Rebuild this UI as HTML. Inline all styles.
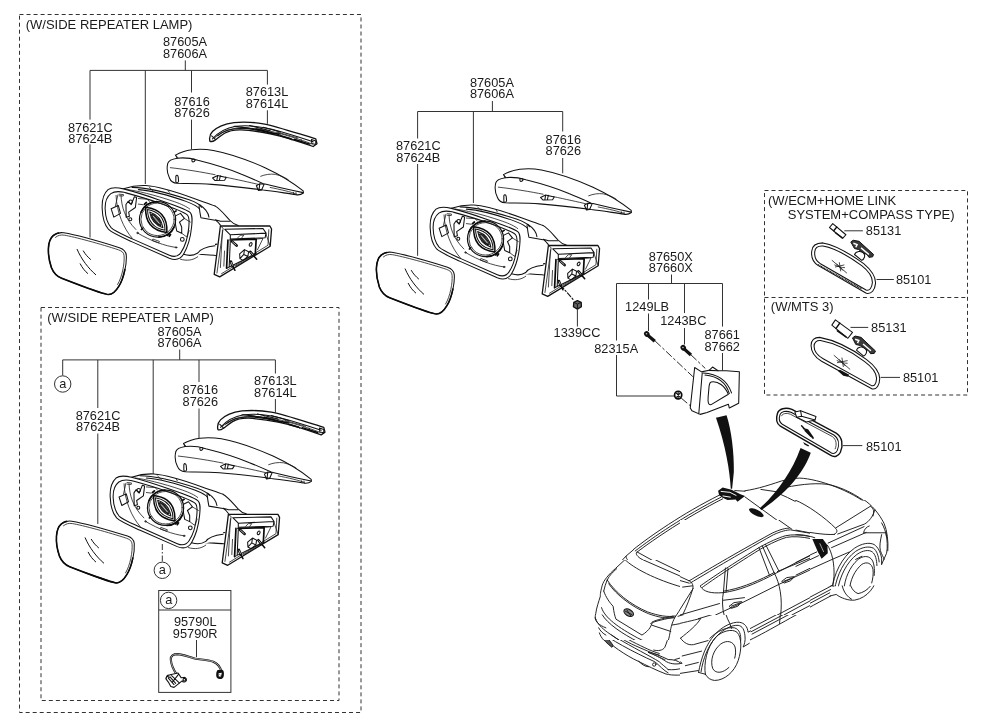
<!DOCTYPE html>
<html>
<head>
<meta charset="utf-8">
<title>Mirror parts diagram</title>
<style>
html,body{margin:0;padding:0;background:#fff;}
body{width:988px;height:727px;overflow:hidden;font-family:"Liberation Sans",sans-serif;}
svg{display:block;will-change:transform;transform:translateZ(0);}
text{font-family:"Liberation Sans",sans-serif;font-size:12.4px;fill:#1a1a1a;}
.m{text-anchor:middle;}
.ld{stroke:#333;stroke-width:1;fill:none;}
.db{stroke:#333;stroke-width:1;fill:none;stroke-dasharray:4 3.03;}
.p{stroke:#111;stroke-width:1.05;fill:none;stroke-linecap:round;stroke-linejoin:round;}
.pw{stroke:#111;stroke-width:1.05;fill:#fff;stroke-linecap:round;stroke-linejoin:round;}
.t{stroke:#1a1a1a;stroke-width:0.8;fill:none;stroke-linecap:round;stroke-linejoin:round;}
.h{stroke:#0a0a0a;stroke-width:1.6;fill:#fff;stroke-linecap:round;stroke-linejoin:round;}
.k{fill:#111;stroke:none;}
.c{stroke:#1a1a1a;stroke-width:0.95;fill:none;stroke-linecap:round;stroke-linejoin:round;}
.p,.pw,.t,.h,.d,.c{vector-effect:non-scaling-stroke;}
.d{stroke:#0a0a0a;stroke-width:1.7;fill:none;stroke-linecap:round;stroke-linejoin:round;}
</style>
</head>
<body>
<svg width="988" height="727" viewBox="0 0 988 727">
<defs>
<!-- DEFS-START -->
<clipPath id="cl1"><path clip-rule="evenodd" d="M-50,-50 H1000 V730 H-50 Z M586.6,308.75 H1000 V730 H586.6 Z M30.9,555.75 H586.6 V730 H30.9 Z"/></clipPath>
<clipPath id="cl2"><path clip-rule="evenodd" d="M57,-50 H1200 V720 H57 Z M374,189 H1200 V720 H374 Z M57,308.75 H463.1 V720 H57 Z"/></clipPath>
<clipPath id="cl3"><path clip-rule="evenodd" d="M-50,63 H988 V863 H-50 Z M586.6,63 H988 V247 H586.6 Z M18.5,63 H586.6 V710 H18.5 Z"/></clipPath>
<clipPath id="cl4"><path clip-rule="evenodd" d="M57,63 H1157 V863 H57 Z M57,63 H463.1 V247 H57 Z"/></clipPath>
<clipPath id="cl5"><path clip-rule="evenodd" d="M0,0 H900 V698 H0 Z M0,161.6 H121 V698 H0 Z"/></clipPath>
<clipPath id="cl6"><rect x="0" y="0" width="988" height="722"/></clipPath>
<clipPath id="cl7"><rect x="0" y="0" width="623.4" height="554.5"/></clipPath>
<clipPath id="cl8"><rect x="0" y="224" width="826" height="450"/></clipPath>
<g id="glass">
<!-- traced from zoom [40,220,140,295] s=9.69 -->
<g transform="translate(40 220) scale(0.1032)">
<path class="pw" d="M130,150 C160,125 190,118 230,124 C330,140 600,215 770,268 C810,282 832,300 836,340 C842,420 815,560 765,640 C735,690 700,725 660,722 C620,718 350,620 210,565 C160,545 130,510 110,460 C90,400 78,330 82,270 C85,220 100,175 130,150 Z"/>
<path class="d" style="stroke-width:1.6" d="M180,126 C160,130 145,138 130,150 C100,175 85,220 82,270 C78,330 90,400 110,460 C130,510 160,545 210,565 C350,620 620,718 660,722 C700,725 735,690 765,640 C790,600 810,540 822,480"/>
<path class="t" d="M150,168 C175,148 200,142 235,147 C330,162 600,236 760,289 C796,302 812,316 815,347 C820,420 798,548 752,625"/>
<path class="p" style="stroke-width:1" d="M360,285 C400,380 470,470 540,530 M420,300 C440,335 465,360 490,382 M390,425 C410,465 435,495 462,518"/>
</g>
</g>
<g id="housing">
<!-- traced from zoom [95,175,215,265] s=8.075 -->
<g transform="translate(95 175) scale(0.12384)">
<!-- shell top -->
<path class="pw" d="M230,112 C280,95 350,82 410,85 C500,90 650,135 800,190 C870,215 930,235 969,250 L969,600 L700,690 Z" style="stroke:none"/>
<path class="p" d="M230,112 C280,95 350,82 410,85 C500,90 650,135 800,190 C870,215 930,235 969,250"/>
<path class="p" d="M300,100 C400,100 560,135 760,200 C830,225 850,238 860,260"/>
<path class="p" d="M350,118 C450,125 600,165 740,215 C800,238 830,250 845,275"/>
<path class="t" d="M260,118 C330,125 480,160 640,215 C700,236 740,255 765,275"/>
<path class="t" d="M440,100 L470,130 M590,125 L600,140"/>
<!-- outer rim -->
<path class="pw" d="M230,112 C180,100 130,100 105,118 C70,150 55,210 58,270 C60,340 75,400 110,440 C140,470 200,495 300,540 L600,672 C650,692 690,680 715,640 C750,580 772,500 780,420 C785,370 790,320 765,300 C740,280 650,245 500,195 C400,160 300,130 230,112 Z"/>
<path class="p" d="M235,140 C190,130 150,135 128,150 C95,175 80,220 82,275 C84,340 100,390 130,425 C160,455 220,478 310,520 L600,648 C640,665 675,655 695,625 C728,575 750,500 757,425 C762,375 765,340 745,322 C720,300 640,268 500,220 C400,185 300,158 235,140 Z"/>
<!-- inner contour lines -->
<path class="t" d="M170,165 C175,300 230,430 300,510 M210,165 C215,260 240,350 330,440 M343,468 C450,532 564,573 655,585 M470,518 L520,536 L515,548 L465,530 Z"/>
<path class="t" d="M185,160 L165,250 M195,155 L230,158 L228,170 L195,168"/>
<circle class="t" cx="343" cy="468" r="6"/><circle class="t" cx="655" cy="585" r="6"/>
<!-- left brackets -->
<path class="p" d="M130,272 L188,246 L206,310 L152,340 Z"/>
<path class="p" d="M250,238 L268,212 L292,240 L318,176 L336,182 L326,262 L272,300 L278,334 L252,342 Z"/>
<circle class="p" cx="288" cy="216" r="14"/><circle class="p" cx="285" cy="358" r="12"/>
<path class="t" d="M350,190 L420,195 L440,215 M350,235 L390,240"/>
<!-- right bracket -->
<path class="p" d="M650,330 L690,310 L722,350 L682,380 L700,420 L700,470 L660,452 L650,400 Z"/>
<circle class="p" cx="705" cy="520" r="15"/>
<path class="t" d="M720,350 L770,380 M700,470 L740,500 L760,450"/>
<!-- actuator -->
<ellipse class="p" cx="505" cy="358" rx="146" ry="143" fill="#fff" style="stroke-width:1.2"/>
<ellipse class="t" cx="505" cy="358" rx="134" ry="131"/>
<path class="d" d="M372,300 C395,245 445,218 500,215 M640,420 C620,470 570,500 515,502" style="stroke-width:1.6"/>
<path class="d" d="M400,235 L415,222 M610,480 L600,495 M385,430 L375,440 M640,300 L655,290 M585,488 L600,470"/>
<g transform="rotate(50 495 362)">
<path class="d" style="stroke-width:1.5" d="M362,362 Q495,238 628,362 Q495,486 362,362 Z"/>
<path class="p" d="M385,362 Q495,272 605,362 Q495,452 385,362 Z"/>
<path class="p" d="M412,362 Q495,312 578,362 Q495,412 412,362 Z"/>
<ellipse cx="495" cy="362" rx="58" ry="15" fill="#444" stroke="#111" stroke-width="1.1" vector-effect="non-scaling-stroke"/>
<path d="M455,362 L535,362" stroke="#fff" stroke-width="5"/>
</g>
<!-- underside to arm -->
<path class="p" d="M715,640 C760,655 800,650 830,630 C850,600 900,580 969,572"/>
<path class="t" d="M690,680 C740,695 790,690 830,660"/>
<path class="p" d="M845,240 C890,270 915,300 920,340 M840,250 C845,290 850,320 855,345 L969,365"/>
</g>
</g>
<g id="base">
<!-- traced from zoom [175,185,285,285] s=7.27 -->
<g transform="translate(175 185) scale(0.13755)">
<path class="p" d="M290,152 C330,175 360,215 400,258 C420,280 440,290 460,294"/>
<path class="p" d="M180,222 C230,240 290,250 330,264 L400,264 M245,232 C280,240 310,262 330,292"/>
<path class="p" d="M0,520 C60,520 130,515 170,480 C200,450 260,435 305,430 M150,502 C200,508 260,506 295,512"/>
<!-- wedge base -->
<path class="pw" d="M330,298 L690,298 L702,320 L692,445 L325,668 L285,650 Z" style="stroke-width:1.3"/>
<path class="t" d="M682,325 L676,438 L338,645 M330,298 L350,314 L305,640"/>
<path class="p" d="M362,322 L640,316 L662,350 L402,362 Z M402,362 L402,392 L655,384 L662,350"/>
<path class="t" d="M455,385 L475,365 L500,365 L485,385"/>
<path class="d" d="M385,400 L375,605 M400,400 L590,394 L584,500"/><path class="p" d="M402,408 L394,592 M375,605 L590,500"/>
<path class="t" d="M600,392 L640,388 L600,470 M660,352 L690,440"/>
<path class="t" d="M345,330 L330,600 M360,480 L355,590"/>
<!-- studs / connector -->
<path class="d" style="stroke-width:2.6" d="M414,410 L448,440"/><path d="M416,412 L446,438" stroke="#fff" stroke-width="0.7" vector-effect="non-scaling-stroke"/>
<ellipse class="p" cx="550" cy="432" rx="9" ry="14" transform="rotate(30 550 432)"/>
<path class="d" style="stroke-width:2.6" d="M406,556 L418,588"/><path class="d" style="stroke-width:1.5" d="M418,588 L436,620"/><path d="M408,560 L418,586" stroke="#fff" stroke-width="0.7" vector-effect="non-scaling-stroke"/>
<path class="d" style="stroke-width:2.6" d="M548,486 L570,512"/><path class="d" style="stroke-width:1.5" d="M570,512 L594,540"/><path d="M550,488 L568,510" stroke="#fff" stroke-width="0.7" vector-effect="non-scaling-stroke"/>
<path class="p" d="M470,500 L505,470 L535,485 L530,520 L495,548 L472,535 Z M505,470 L500,505 L530,520 M500,505 L472,535" fill="#ddd"/>
<path class="t" d="M440,590 L590,500"/>
</g>
</g>
<g id="cover">
<!-- traced from zoom [160,110,330,205] s=5.81 -->
<g transform="translate(160 110) scale(0.17212)">
<path class="pw" d="M90,262 C120,245 150,236 185,231 C230,226 270,228 310,235 C400,252 520,295 610,335 C690,372 770,420 832,470 L833,482 C820,492 805,495 790,492 C720,482 650,470 600,465 C500,452 400,440 300,432 C220,426 150,428 100,426 C75,424 62,415 55,395 C42,370 38,340 45,310 C50,292 70,285 100,280 Z"/>
<path class="p" d="M100,280 C140,275 180,280 220,292 C300,312 400,342 470,372 C520,392 560,410 600,428 L610,430 C680,448 760,465 832,480"/>
<path class="t" d="M90,262 L105,278 M60,335 C150,345 250,362 320,376 M380,390 C450,405 520,420 570,432 M640,450 C700,462 760,475 790,488"/>
<path class="t" d="M585,385 C610,375 640,370 670,374 C700,380 725,392 745,405"/>
<path class="p" d="M185,288 C192,282 202,285 204,292 C200,302 190,305 186,298 Z"/>
<path class="p" d="M92,385 C96,375 104,378 106,390 L108,415 C104,425 96,425 92,418 Z"/>
<path class="p" d="M305,395 L335,380 L385,392 L375,408 L320,410 Z M335,380 L330,410 M350,382 L345,410"/>
<path class="p" d="M560,440 L580,428 L605,432 L590,465 L572,468 Z M580,428 L575,466"/>
<path class="t" d="M775,478 L778,490 M790,480 L792,492"/>
</g>
</g>
<g id="lamp">
<g transform="translate(160 110) scale(0.17212)">
<path class="pw" style="stroke-width:1.3" d="M290,182 C285,160 290,140 305,125 C330,100 380,80 430,73 C480,68 540,70 600,80 C680,95 780,130 905,168 L912,196 L890,212 C800,180 700,150 640,138 C580,125 520,118 470,115 C430,114 400,120 375,135 C350,150 335,165 320,175 C310,182 300,185 290,182 Z"/>
<path class="p" d="M305,168 C330,140 380,105 440,95 C500,88 580,95 650,112 C740,135 830,165 890,185"/>
<path class="t" d="M320,160 C350,130 400,108 460,105 C540,102 620,115 700,138 C780,160 840,180 885,198"/>
<path class="p" d="M430,95 C500,100 560,112 610,125 M520,90 L640,120 M600,100 L700,128"/>
<path class="t" d="M660,135 L760,165 M680,128 L800,162 M760,165 L765,175 M820,172 L825,188"/>
<path class="p" d="M880,172 L905,180 L905,200 L882,195 Z"/>
<path class="p" d="M300,150 C310,160 318,165 322,172"/>
<path class="p" d="M335,150 C365,125 410,108 465,108 C530,108 600,122 660,140 M470,100 C540,108 600,120 650,135 L700,140"/>
<path class="d" style="stroke-width:1.4" d="M560,110 L690,142 M700,150 L760,168 M780,170 L870,198"/>
</g>
</g>
<g id="mirror">
<use href="#base"/>
<use href="#housing"/>
<use href="#glass"/>
</g>
<!-- DEFS-END -->
</defs>
<rect x="0" y="0" width="988" height="727" fill="#fff"/>

<!-- ===== dashed boxes ===== -->
<g id="boxes">
<rect class="db" x="19.5" y="14.5" width="341.5" height="698"/>
<rect class="db" x="41" y="307.5" width="298" height="393"/>
<rect class="db" x="764.5" y="190.5" width="203" height="204.5"/>
<line class="db" x1="764.5" y1="297.5" x2="967.5" y2="297.5"/>
</g>

<!-- ===== leader lines ===== -->
<g id="leaders" class="ld">
<!-- group 1 -->
<path d="M185.3 60.4V70.4M90 70.4H267.4M90 70.4V119.6M90 144.3V237.5M145.3 70.4V184M191.5 70.4V92.5M191.5 119.6V149.2M267.4 70.4V84.6M267.4 110.3V123.8"/>
<!-- group 2 -->
<path d="M179.7 349.5V359.9M62.7 359.9H275.4M62.7 359.9V375.5M97.8 359.9V408M97.8 433.5V524M153.2 359.9V474M199 359.9V382M199 408.5V438M275.4 359.9V373.5M275.4 399V412.5"/>
<path d="M162.3 544V562" stroke-dasharray="6 2 1.5 2"/>
<!-- group 3 -->
<path d="M492.4 101V111.5M417.6 111.5H562.7M417.6 111.5V138.5M417.6 164V255.8M473.4 111.5V203M562.7 111.5V131.5M562.7 158V173.3"/>
<!-- 1339CC -->
<path d="M577.4 309.5V326.5"/>
<!-- group 4 -->
<path d="M671.5 274.5V283.5M616.5 283.5H722.5M616.5 283.5V340.5M616.5 355V396H674.5M648.5 283.5V299.5M648.5 313.5V331M684.5 283.5V313M684.5 328V344.5M722.5 283.5V326.6M722.5 353V370.5"/>
<!-- right labels -->
<path d="M844.3 230.8H862.9M876.5 279.5H893.8M850.5 327.4H868.2M880.6 377.4H900M842.8 445.6H862.3"/>
<!-- small box a -->
<rect x="158.7" y="590.5" width="72.2" height="101.9"/>
<path d="M158.7 610H230.9M196.5 640V657"/>
</g>
<g class="ld" fill="none">
<circle cx="62.7" cy="384" r="8.2"/>
<circle cx="162.3" cy="570.3" r="8.2"/>
<circle cx="168.6" cy="600.4" r="8.2"/>
</g>

<!-- ===== text ===== -->
<g id="labels">
<text transform="translate(25.7 28.5) scale(1.05 1)">(W/SIDE REPEATER LAMP)</text>
<text class="m" transform="translate(185 46.2) scale(1.03 1)">87605A</text>
<text class="m" transform="translate(185 57.9) scale(1.03 1)">87606A</text>
<text class="m" transform="translate(90.3 131.6) scale(1.03 1)">87621C</text>
<text class="m" transform="translate(90.3 142.9) scale(1.03 1)">87624B</text>
<text class="m" transform="translate(192 105.7) scale(1.03 1)">87616</text>
<text class="m" transform="translate(192 117) scale(1.03 1)">87626</text>
<text class="m" transform="translate(267 96) scale(1.03 1)">87613L</text>
<text class="m" transform="translate(267 107.5) scale(1.03 1)">87614L</text>

<text transform="translate(47.2 321.7) scale(1.05 1)">(W/SIDE REPEATER LAMP)</text>
<text class="m" transform="translate(179.5 335.8) scale(1.03 1)">87605A</text>
<text class="m" transform="translate(179.5 347.2) scale(1.03 1)">87606A</text>
<text class="m" transform="translate(98 420) scale(1.03 1)">87621C</text>
<text class="m" transform="translate(98 431.3) scale(1.03 1)">87624B</text>
<text class="m" transform="translate(200.3 394.3) scale(1.03 1)">87616</text>
<text class="m" transform="translate(200.3 405.7) scale(1.03 1)">87626</text>
<text class="m" transform="translate(275.4 385.3) scale(1.03 1)">87613L</text>
<text class="m" transform="translate(275.4 396.6) scale(1.03 1)">87614L</text>
<text class="m" transform="translate(62.7 387.6) scale(1.03 1)">a</text>
<text class="m" transform="translate(162.3 574.1) scale(1.03 1)">a</text>
<text class="m" transform="translate(168.7 604.2) scale(1.03 1)">a</text>
<text class="m" transform="translate(195.2 626.2) scale(1.03 1)">95790L</text>
<text class="m" transform="translate(195.2 637.7) scale(1.03 1)">95790R</text>

<text class="m" transform="translate(491.9 86.8) scale(1.03 1)">87605A</text>
<text class="m" transform="translate(491.9 98.3) scale(1.03 1)">87606A</text>
<text class="m" transform="translate(418.3 150.3) scale(1.03 1)">87621C</text>
<text class="m" transform="translate(418.3 161.6) scale(1.03 1)">87624B</text>
<text class="m" transform="translate(563.3 143.5) scale(1.03 1)">87616</text>
<text class="m" transform="translate(563.3 155) scale(1.03 1)">87626</text>
<text class="m" transform="translate(577 336.9) scale(1.03 1)">1339CC</text>

<text class="m" transform="translate(670.8 260.5) scale(1.03 1)">87650X</text>
<text class="m" transform="translate(670.8 271.9) scale(1.03 1)">87660X</text>
<text class="m" transform="translate(647.1 310.9) scale(1.03 1)">1249LB</text>
<text class="m" transform="translate(683.3 325.4) scale(1.03 1)">1243BC</text>
<text class="m" transform="translate(722.2 339) scale(1.03 1)">87661</text>
<text class="m" transform="translate(722.2 350.5) scale(1.03 1)">87662</text>
<text class="m" transform="translate(616.2 352.6) scale(1.03 1)">82315A</text>

<text transform="translate(767.9 204.5) scale(1.05 1)">(W/ECM+HOME LINK</text>
<text transform="translate(787.7 218.6) scale(1.05 1)">SYSTEM+COMPASS TYPE)</text>
<text transform="translate(865.8 234.9) scale(1.03 1)">85131</text>
<text transform="translate(895.9 283.7) scale(1.03 1)">85101</text>
<text transform="translate(770.8 310.5) scale(1.05 1)">(W/MTS 3)</text>
<text transform="translate(871.1 331.6) scale(1.03 1)">85131</text>
<text transform="translate(902.9 382.3) scale(1.03 1)">85101</text>
<text transform="translate(866 451.2) scale(1.03 1)">85101</text>
</g>

<!-- ===== parts ===== -->
<g id="parts">
<!-- PARTS-START -->
<use href="#mirror"/>
<use href="#mirror" transform="translate(8 288.4)"/>
<use href="#mirror" transform="translate(328 19.5)"/>
<use href="#cover"/>
<use href="#cover" transform="translate(8 288.4)"/>
<use href="#cover" transform="translate(328 19.5)"/>
<use href="#lamp"/>
<use href="#lamp" transform="translate(8 288.4)"/>
<g id="car">
<!-- tile1 [585,470] s=6.175 -->
<g transform="translate(585 470) scale(0.16194)" clip-path="url(#cl1)">
<path class="c" d="M300,490 C400,410 600,270 830,155 M310,500 C420,415 610,285 840,168 M320,508 C430,425 620,295 850,178"/>
<path class="c" d="M300,492 L255,530 C250,540 260,555 280,570 C400,640 520,680 610,690 L640,685 M320,508 C310,515 320,530 340,545 C430,600 540,650 625,680 M322,506 L640,682"/>
<path class="c" d="M640,682 L988,468 M650,695 L988,485 M720,710 L988,540"/>
<path class="c" d="M255,530 L190,600 C150,640 120,680 105,715 M210,600 C170,640 145,680 135,715"/>
<path class="c" d="M880,600 L870,715 M868,608 L858,715 M925,127 L988,131"/>
<!-- far side mirror (dark) -->
<path class="k" d="M822,128 L850,108 L905,122 L960,150 L988,160 L942,196 L930,182 L880,186 L850,172 L828,156 Z"/>
<path d="M838,132 L895,138 L935,158 M850,160 L900,168" stroke="#fff" stroke-width="6" fill="none"/>
</g>
<!-- tile2 [735,470] -->
<g transform="translate(735 470) scale(0.16194)" clip-path="url(#cl2)">
<path class="c" d="M0,135 C80,130 160,110 250,80 C300,62 350,50 400,50 C520,55 720,130 830,220 C900,280 940,360 945,430 L945,520"/>
<path class="c" d="M310,108 C420,85 520,78 590,92 C700,120 790,180 840,225 M160,120 L260,135"/>
<path class="c" d="M60,165 L335,365 M280,150 C400,200 540,290 625,370 C640,385 635,400 620,402"/>
<path class="c" d="M330,362 C450,385 560,412 625,400 M625,362 L835,226 M640,395 L800,345 C830,330 850,300 860,255"/>
<path class="c" d="M870,262 C900,320 915,380 910,440 C908,480 915,520 935,545 M790,382 C800,360 820,347 860,342 M800,386 L938,392"/>
<path class="c" d="M610,715 C620,600 700,480 800,460 C860,455 900,480 920,540 M640,715 C660,620 720,520 800,500 C850,495 880,520 890,570 M665,715 C680,630 730,545 800,528"/>
<path class="c" d="M700,715 C700,640 740,575 800,568 C840,572 862,620 856,695 M750,545 C790,530 830,540 850,570"/>
<path class="c" d="M0,505 L150,430 C200,405 260,385 330,375 M0,530 L170,455 C230,425 290,405 360,400 C420,398 460,405 480,420 M0,470 L230,380 C270,368 300,364 335,365"/>
<path class="c" d="M150,475 L210,660 M175,465 L250,650 L268,715 M200,458 L270,625"/>
<path class="c" d="M270,622 L500,512 M130,715 L520,525 M350,662 L600,540 M560,440 C600,480 615,560 610,640 L605,715"/>
<path class="c" d="M575,450 L800,345 M600,470 L700,432"/>
<path class="c" d="M288,690 L330,662 L365,660 L340,685 Z M300,690 L350,668"/>
<!-- near mirror dark -->
<path class="k" d="M480,425 L545,430 L575,470 L570,522 L535,548 L510,500 Z"/>
<path d="M525,455 L548,505" stroke="#fff" stroke-width="5" fill="none"/>
</g>
<!-- tile3 [585,575] -->
<g transform="translate(585 575) scale(0.16194)" clip-path="url(#cl3)">
<path class="c" d="M160,0 C140,20 150,60 200,120 C280,200 420,250 545,265 M120,50 C150,120 250,220 400,265 C450,280 500,285 540,280"/>
<path class="c" d="M380,0 L600,75 L640,40 M520,0 L620,40 L690,0 M600,75 L660,55"/>
<path class="c" d="M660,55 C650,130 600,210 550,265 C530,300 520,380 500,430 C490,455 470,465 440,460"/>
<path class="c" d="M150,0 C110,40 95,100 100,150 C90,180 70,220 65,270 C75,300 100,320 130,340 M110,120 C120,140 140,160 160,175"/>
<path class="c" d="M175,195 C180,240 185,270 195,290 L350,365 C380,350 400,330 415,305 M100,200 C120,260 200,330 330,390 C400,420 450,440 480,440 M105,240 C130,290 220,360 340,415 C400,440 440,455 470,462"/>
<ellipse cx="270" cy="235" rx="30" ry="17" transform="rotate(30 270 235)" fill="#666" stroke="#111" stroke-width="1" vector-effect="non-scaling-stroke"/>
<path class="c" d="M400,300 C420,285 500,275 540,270 M415,305 L400,300 M410,340 C450,350 500,365 530,375 M540,310 C600,295 670,280 715,268 C690,310 640,350 590,390 C560,380 540,375 530,375 M590,390 C610,420 640,435 670,430 L760,405"/>
<path class="c" d="M65,270 C60,290 70,310 90,330 C200,430 350,520 500,600 C520,610 540,615 560,612 L700,590 M90,350 C200,450 350,540 480,600 M70,300 C180,400 330,490 470,560"/>
<path class="c" d="M390,480 C430,490 470,510 500,540 C530,550 570,550 600,545 C570,520 520,505 480,505 Z M600,500 L720,470 M620,560 L700,540 M340,540 C360,555 380,565 400,560"/>
<circle class="c" cx="425" cy="550" r="10"/>
<path class="c" d="M575,255 L830,175 M710,70 C740,100 780,115 850,105 L988,75 M720,60 L800,0 M850,0 C845,100 850,200 880,270 C890,290 900,310 905,330 M860,160 L988,130 M700,270 L850,225"/>
<path class="c" d="M890,190 L925,168 L968,165 L945,195 L905,205 Z"/>
</g>
<!-- tile4 [735,575] -->
<g transform="translate(735 575) scale(0.16194)" clip-path="url(#cl4)">
<path class="c" d="M0,90 C50,85 100,70 150,45 L250,0 M0,155 L280,55 L330,30 M250,0 C280,60 295,150 280,240 L275,300"/>
<path class="c" d="M290,42 L325,15 L380,10 L350,38 Z M0,172 L40,160 L30,188 L0,200"/>
<path class="c" d="M95,330 L600,65 M100,350 L590,90 M105,365 L585,110 M95,400 C200,350 400,230 590,130"/>
<path class="c" d="M600,65 C610,30 620,10 630,0 M585,130 L625,120 C650,140 700,160 740,155 C820,140 870,70 880,0 M660,0 C650,60 670,120 720,150 M710,0 C700,50 720,100 760,115 C790,110 820,90 835,70 M610,70 L630,0"/>
</g>
<!-- rear wheel [680,600] s=8.08 -->
<g transform="translate(680 600) scale(0.12376)">
<path class="c" d="M205,600 C190,520 215,380 290,300 C340,250 420,230 460,260 C500,300 500,400 470,490 C440,580 360,650 280,650 C250,648 220,630 205,600 Z"/>
<path class="c" d="M395,545 C350,590 290,600 265,555 C240,490 270,400 330,355 C380,320 430,335 445,380 C452,410 450,445 442,470"/>
<path class="c" d="M150,585 L205,600 M150,585 C170,470 210,360 280,280 C340,215 420,175 480,180 C520,185 545,215 550,260 L570,250 M170,580 C185,480 225,370 295,295 C350,235 420,200 470,205 C505,210 520,240 525,290 C530,330 520,360 510,380 L560,350 M240,310 C300,250 380,215 440,225 C480,235 495,280 490,330"/>
</g>
<!-- front area [795,500] s=8.08 -->
<g transform="translate(795 500) scale(0.12376)" clip-path="url(#cl5)">
<path class="c" d="M0,0 C100,40 240,140 330,230 C345,250 340,265 320,275 M0,245 C100,255 220,285 320,278 M0,275 C60,280 120,290 160,305"/>
<path class="c" d="M330,225 L610,50 M560,0 C620,40 680,110 720,190 C745,250 755,330 750,410"/>
<path class="c" d="M345,275 L560,195 C600,175 630,130 645,80 M610,50 C640,70 640,100 630,130 M268,348 L558,215 M295,385 L575,262"/>
<path class="c" d="M555,260 C560,235 580,215 600,210 M555,265 L735,265 M700,185 C720,220 735,260 740,300 M735,265 C745,320 750,380 740,430 L700,520 M700,280 C690,330 680,370 690,410 C700,440 715,460 720,480"/>
<path class="c" d="M300,727 C310,600 380,460 480,390 C540,350 600,340 640,360 C670,380 690,420 700,470 L700,520 M320,727 C335,610 400,480 490,415 C545,378 600,372 635,390 C660,410 675,450 680,500 M345,727 C360,620 420,500 500,440 C550,405 600,400 625,420 C650,440 660,480 662,530"/>
<path class="c" d="M395,727 C400,640 440,540 510,480 C550,450 590,450 615,475 C640,500 645,560 640,610 M440,727 C445,650 480,570 540,520 C580,495 620,510 630,560 C635,600 628,640 620,670 M490,480 L540,455"/>
<path class="c" d="M262,365 C300,420 320,520 315,620 L300,727 M0,500 L175,420 M0,540 L190,450 M0,615 L300,480 L440,420 M220,727 L300,690"/>
<path class="k" d="M140,315 L225,315 L262,365 L265,430 L215,475 L185,420 Z"/>
<path d="M200,350 L232,420" stroke="#fff" stroke-width="5" fill="none"/>
</g>
<!-- mid side [680,520] s=7.6 -->
<g transform="translate(680 520) scale(0.13158)" clip-path="url(#cl6)">
<path class="c" d="M70,462 C200,385 400,265 700,100 C760,72 800,62 830,62 M80,478 C210,400 410,280 710,112 C770,85 810,76 840,75 C900,85 950,95 988,100"/>
<path class="c" d="M155,500 C220,455 350,365 600,210 C680,165 750,135 800,120 C850,108 920,112 988,125 M170,512 C230,468 360,378 610,222 C690,178 760,146 810,132 C860,122 930,128 988,140"/>
<path class="c" d="M155,505 C180,545 230,560 330,552 C450,535 560,490 680,430 L988,268 M335,540 C450,522 560,478 680,418 L715,400 M740,392 L988,290"/>
<path class="c" d="M345,365 L330,550 M365,368 L350,548 M600,210 L680,420 M625,195 L715,400 M650,185 L750,385"/>
<path class="c" d="M330,548 C318,600 322,680 335,722 M715,400 C760,480 780,600 765,722"/>
<path class="c" d="M0,722 L300,635 M270,722 L480,625 L750,490 L988,380 M330,610 L490,590"/>
<path class="c" d="M375,655 L410,628 L470,620 L440,655 L395,670 Z M390,655 L455,630 M775,465 L810,438 L870,430 L840,462 L795,478 Z M790,465 L855,440"/>
<path class="c" d="M740,722 L988,590 M790,722 L988,615 M850,722 L988,650"/>
<path class="c" d="M0,430 L75,465 C95,480 105,500 95,530 C80,580 50,660 20,722 M0,460 L70,480 M20,510 L95,500 M100,520 L0,680"/>
<path class="c" d="M750,0 L850,70"/>
</g>
<!-- rear [590,560] s=6.927 -->
<g transform="translate(590 560) scale(0.14436)" clip-path="url(#cl7)">
<path class="c" d="M245,0 C300,55 450,135 645,190 L705,205 C718,190 715,170 700,150 L690,140 M370,0 L690,140 M455,0 L700,118 M645,190 L690,160"/>
<path class="c" d="M240,0 L175,60 C130,100 95,140 85,175 C75,210 70,240 72,250 C60,290 45,330 40,370 C35,390 35,400 40,410 M185,60 C150,90 125,120 120,140 M120,135 C110,160 100,190 95,215"/>
<path class="c" d="M120,140 C170,220 280,310 400,360 C470,385 540,398 590,388 M130,165 C180,240 290,325 405,372 C470,396 535,408 585,400"/>
<path class="c" d="M712,170 C690,230 640,320 600,380 C570,420 560,470 555,500 C545,560 530,600 515,625 C500,640 480,640 455,630"/>
<path class="c" d="M95,215 C110,260 140,300 160,320 C165,360 172,390 180,410 L360,520 C385,505 405,485 415,470 L430,440"/>
<ellipse cx="268" cy="365" rx="36" ry="22" transform="rotate(30 268 365)" fill="#888" stroke="#111" stroke-width="1.1" vector-effect="non-scaling-stroke"/>
<path class="c" d="M245,355 L290,378 M255,345 L285,390"/>
<path class="c" d="M420,440 C450,420 530,410 580,395 M430,430 C460,412 530,402 575,388 M430,452 L560,495"/>
<path class="c" d="M80,330 C100,400 200,470 330,540 C400,575 450,600 480,610 M85,380 C120,440 220,510 340,570 C400,600 440,620 470,632"/>
<path class="c" d="M40,410 C50,440 80,470 120,500 C250,590 350,650 450,727 M35,400 C40,430 60,450 110,470 M65,505 C75,540 110,580 160,600 M150,520 C250,590 330,640 400,682 M60,470 C70,490 90,510 110,520"/>
<path class="c" d="M610,390 L762,340 M570,450 C640,440 720,420 762,400"/>
<path class="c" d="M400,640 C450,660 500,680 530,700 M520,690 L620,727"/>
</g>
<!-- rear bumper [588,615] s=8.98 -->
<g transform="translate(588 615) scale(0.11134)" clip-path="url(#cl8)">
<path class="c" d="M65,30 C60,70 70,110 95,140 C100,170 105,185 110,195 M100,170 C200,270 350,370 450,415 C520,450 620,500 700,530 C760,545 850,545 988,520"/>
<path d="M105,165 L120,160 C150,175 200,230 225,275 L215,290 C180,265 130,215 105,180 Z" fill="#555" stroke="#111" stroke-width="0.9" vector-effect="non-scaling-stroke"/>
<path class="c" d="M65,30 C100,90 150,140 250,200 C400,290 560,370 640,420 C660,440 700,470 720,490 M130,20 C160,90 260,170 400,240 C500,290 580,330 640,345 M120,40 C150,110 250,190 390,260 C500,310 580,345 640,360 M95,140 C200,220 400,330 600,420 C640,450 680,500 720,520"/>
<path class="c" d="M240,20 C250,40 255,50 260,55 L490,180 C520,160 545,130 560,105 L575,90 M760,20 C750,100 720,220 690,290 C670,320 630,325 590,315 M575,130 C640,160 740,195 830,205 M830,205 C870,250 920,275 988,260 M830,210 C880,170 940,110 988,70"/>
<path d="M540,335 C600,360 650,380 690,410 C730,440 790,445 835,435 C810,410 770,400 720,400 C650,365 590,345 540,335 Z" fill="#fff" stroke="#111" stroke-width="0.95" vector-effect="non-scaling-stroke"/>
<path d="M545,338 C600,355 650,375 700,402 L680,405 C640,380 590,358 545,338 Z" fill="#444"/>
<path class="c" d="M780,400 L988,340 M720,490 C800,500 900,470 988,420 M455,415 C480,440 510,465 545,465"/>
<circle class="c" cx="595" cy="445" r="15"/>
</g>
</g>
<!-- arrows traced from zoom [690,395,880,530] s=5.2 -->
<g transform="translate(690 395) scale(0.19231)">
<path class="k" d="M135,118 L190,105 C215,180 230,300 228,400 L219,487 L212,487 C208,400 185,260 135,118 Z"/>
<path class="k" d="M575,275 L628,300 C600,380 530,490 372,598 L362,590 C450,510 530,400 575,275 Z"/>
<ellipse class="k" cx="345" cy="612" rx="42" ry="15" transform="rotate(27 345 612)"/>
</g>
<!-- triangle cover + screws traced from zoom [630,320,760,420] s=7.269 -->
<g transform="translate(630 320) scale(0.13757)">
<path class="p" stroke-dasharray="7 3 2 3" d="M185,155 L455,410 M445,255 L545,350 M375,570 L440,625" style="stroke-width:0.9"/>
<path class="pw" d="M470,345 L520,377 L575,366 L600,342 L640,369 L700,369 L795,376 L790,605 L722,640 L715,612 L560,672 L510,686 L450,660 L438,640 Z"/>
<path class="p" d="M525,385 L500,682 M575,366 L640,369"/>
<path class="p" d="M530,385 C620,390 705,430 738,530 M545,400 C625,408 695,445 722,535"/>
<path class="pw" d="M590,450 C640,440 690,480 715,540 L590,615 C570,620 565,600 568,560 L575,480 C578,460 582,452 590,450 Z"/>
<!-- screws -->
<g class="k">
<ellipse cx="122" cy="102" rx="19" ry="21" transform="rotate(-40 122 102)"/>
<path d="M130,96 L188,146 L172,163 L116,114 Z"/>
<ellipse cx="387" cy="202" rx="19" ry="21" transform="rotate(-40 387 202)"/>
<path d="M395,196 L451,246 L435,263 L381,214 Z"/>
</g>
<circle cx="120" cy="100" r="6" fill="#bbb"/><circle cx="385" cy="200" r="6" fill="#bbb"/>
<!-- fastener -->
<ellipse class="d" cx="350" cy="546" rx="26" ry="28" fill="#fff"/>
<path class="p" d="M335,530 L365,560 M365,530 L338,562 M350,520 L350,572"/>
</g>
<!-- nut 1339CC -->
<g transform="translate(577.4 304.9)">
<path d="M-3.6,-2.6 L0,-4.2 L3.8,-2.6 L4,1.8 L0,4.2 L-4,1.8 Z" fill="#666" stroke="#111" stroke-width="1.3" stroke-linejoin="round"/>
<path d="M-3.2,-2.4 L0,-0.8 L3.4,-2.4 M0,-0.8 L0,4" stroke="#111" stroke-width="0.9" fill="none"/>
</g>
<path class="p" stroke-dasharray="5 2 1.5 2" style="stroke-width:1.1" d="M560.5,285 L574,300.5"/>
<!-- wire 95790 traced from zoom [155,640,235,695] s=12.35 -->
<g transform="translate(155 640) scale(0.08097)">
<path d="M265,420 C230,370 200,310 195,240 C195,195 225,175 280,175 C340,178 420,210 490,228 C560,242 650,245 720,268 C770,290 805,330 818,385" stroke="#111" stroke-width="2.1" fill="none" vector-effect="non-scaling-stroke"/>
<path d="M265,420 C230,370 200,310 195,240 C195,195 225,175 280,175 C340,178 420,210 490,228 C560,242 650,245 720,268 C770,290 805,330 818,385" stroke="#fff" stroke-width="0.6" fill="none" vector-effect="non-scaling-stroke"/>
<path class="pw" d="M200,425 L285,408 L322,465 L352,462 C385,458 400,490 380,512 C365,525 345,520 335,505 L235,585 L195,575 L165,520 L135,480 L150,440 Z"/>
<path class="p" d="M205,440 L300,530 M290,425 L215,520 M165,470 L235,550 M185,455 L255,535 M135,470 L155,445 L175,462"/>
<circle class="p" cx="362" cy="490" r="16"/>
<path class="k" d="M775,372 L830,368 C850,375 855,400 850,440 C845,470 825,485 795,482 C765,478 752,455 756,420 C758,395 765,380 775,372 Z"/>
<path d="M785,410 L825,405 L815,450 L788,452 Z" fill="#fff"/>
<path d="M795,420 L812,440" stroke="#111" stroke-width="6"/>
</g>
<!-- ECM mirror traced from zoom [790,215,920,305] s=7.6 -->
<g transform="translate(790 215) scale(0.13158)">
<!-- mount -->
<path class="pw" d="M490,300 C500,275 540,268 560,290 C575,310 565,335 545,345 Z"/>
<path fill="#3a3a3a" stroke="#111" stroke-width="1" vector-effect="non-scaling-stroke" d="M462,205 L480,192 L525,200 L635,300 L628,318 L600,322 L585,300 L560,290 L520,262 L490,255 Z"/>
<path d="M482,215 L510,225 L500,245 M540,250 L600,300" stroke="#fff" stroke-width="11" fill="none"/>
<!-- body -->
<path class="pw" d="M165,275 C168,235 200,213 250,212 C330,225 450,290 560,370 C620,420 652,470 650,520 C645,572 620,602 580,595 L215,385 C175,360 160,320 165,275 Z"/>
<path class="p" d="M188,280 C190,250 212,234 250,236 C330,250 440,308 545,385 C600,428 628,472 626,515 C622,555 605,578 578,570 L228,368 C196,348 185,315 188,280 Z"/>
<path d="M212,378 L545,562" stroke="#222" stroke-width="11" stroke-dasharray="9 4" fill="none"/>
<path class="t" d="M320,345 L430,440 M345,395 L410,380 M355,372 L400,420 M375,362 L385,425 M340,380 C370,395 395,400 415,400"/>
<!-- 85131 -->
<path class="pw" d="M300,95 L325,65 L425,150 L400,178 Z"/>
<path class="p" d="M355,92 L332,120 M345,135 L395,172" style="stroke-width:1.5"/>
</g>
<!-- MTS mirror traced from zoom [790,310,920,400] s=7.6 -->
<g transform="translate(790 310) scale(0.13158)">
<path class="pw" d="M505,305 C515,280 555,272 575,295 C590,315 580,340 560,350 Z"/>
<path fill="#3a3a3a" stroke="#111" stroke-width="1" vector-effect="non-scaling-stroke" d="M475,212 L495,198 L540,208 L650,312 L640,330 L612,332 L598,310 L575,298 L535,270 L500,262 Z"/>
<path d="M495,222 L523,232 L513,252 M555,258 L615,310" stroke="#fff" stroke-width="11" fill="none"/>
<path class="pw" d="M160,270 C160,230 185,208 225,208 C320,225 450,280 580,375 C640,420 680,470 682,520 C680,572 660,606 625,600 L240,390 C190,360 160,320 160,270 Z"/>
<path class="p" d="M183,275 C183,246 202,230 232,232 C320,248 445,300 565,390 C620,430 656,474 658,518 C656,558 642,582 620,575 L252,370 C208,345 183,312 183,275 Z"/>
<path class="k" d="M362,462 L380,455 L450,492 L440,508 L405,500 Z"/>
<path class="t" d="M335,345 L455,450 M360,400 L435,385 M372,375 L420,425 M395,365 L405,430 M358,385 C388,400 415,405 435,405"/>
<path class="pw" d="M318,115 L345,75 L475,170 L440,215 Z"/>
<path class="p" d="M378,100 L350,140 M360,158 L425,205" style="stroke-width:1.5"/>
</g>
<!-- lower mirror traced from zoom [690,395,880,530] s=5.2 -->
<g transform="translate(690 395) scale(0.19231)">
<path class="pw" style="stroke-width:1.4" d="M455,95 C462,72 495,62 530,75 L760,198 C792,218 798,260 782,298 C772,320 750,326 730,313 L470,162 C447,147 447,120 455,95 Z"/>
<path class="p" d="M468,102 C474,86 498,80 525,90 L748,208 C774,226 778,258 766,288 C758,305 744,308 730,298 L480,152 C462,140 462,120 468,102 Z"/>
<path class="t" d="M476,108 C482,96 500,92 522,100 L740,216 C762,232 764,258 755,280"/>
<path class="pw" d="M545,88 L575,82 L655,112 L650,130 L605,140 L555,116 Z"/>
<path class="p" d="M575,82 L580,110 L650,130 M580,110 L555,116"/>
<path class="p" d="M580,160 L640,225 M598,185 L628,215 M590,175 L612,182 L640,222" style="stroke-width:1.4"/>
<path class="k" d="M588,245 L620,262 L615,268 L595,258 Z"/>
</g>
<!-- PARTS-END -->
</g>
</svg>
</body>
</html>
